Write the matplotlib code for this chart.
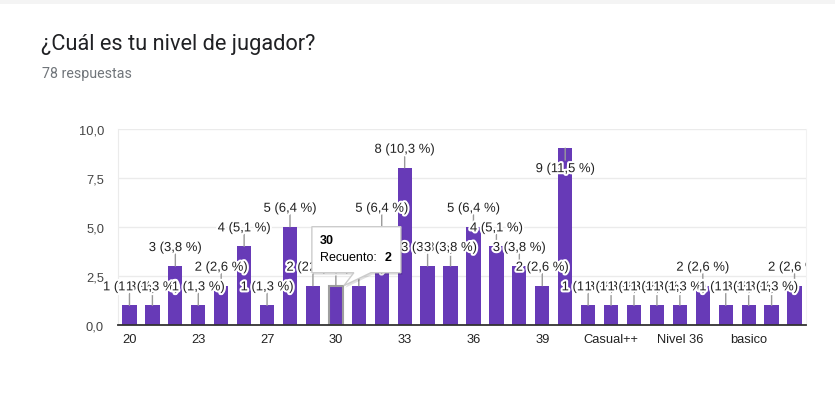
import matplotlib.pyplot as plt
import matplotlib.patheffects as pe
import matplotlib.transforms as mtransforms
from matplotlib.patches import Polygon, Rectangle

# Respuestas por categoria (78 en total)
categorias = ["20", "21", "22", "23", "24", "25", "27", "28", "29", "30",
              "31", "32", "33", "34", "35", "36", "37", "38", "39", "40",
              "Casual", "Casual++", "Experto", "Medio", "Nivel 36", "Nivel 40",
              "Pro", "basico", "medio", "pro"]
recuento = [1, 1, 3, 1, 2, 4, 1, 5, 2, 2,
            2, 5, 8, 3, 3, 5, 4, 3, 2, 9,
            1, 1, 1, 1, 1, 2, 1, 1, 1, 2]
total = sum(recuento)
yticks = [0, 2.5, 5, 7.5, 10]
hover_idx = 9  # barra "30" con el tooltip

morado = "#673ab7"
fuente = "Liberation Sans"

fig = plt.figure(figsize=(8.35, 4.14), dpi=100)
ax = fig.add_axes([118 / 835, 88 / 414, 688 / 835, 196.5 / 414])

x = list(range(len(categorias)))
bars = ax.bar(x, recuento, width=0.62, color=morado, zorder=2)
bars[hover_idx].set_edgecolor("#9e9e9e")
bars[hover_idx].set_linewidth(1.5)

ax.set_xlim(-0.5, len(categorias) - 0.5)
ax.set_ylim(0, 10)
ax.set_yticks(yticks)
ax.set_yticklabels([f"{v:.1f}".replace(".", ",") for v in yticks],
                   fontsize=9.3, color="#444444", family=fuente)
ax.set_xticks(x[::3])
ax.set_xticklabels(categorias[::3], fontsize=9.3, color="#222222", family=fuente)
ax.tick_params(length=0)
ax.tick_params(axis="y", pad=10)
ax.tick_params(axis="x", pad=6)

ax.grid(axis="y", color="#ebebeb", linewidth=1, zorder=0)
ax.spines["top"].set_visible(False)
ax.spines["left"].set_color("#ebebeb")
ax.spines["right"].set_color("#f2f2f2")
ax.spines["bottom"].set_color("#333333")
ax.spines["bottom"].set_linewidth(1.3)
ax.spines["bottom"].set_zorder(3)

# las etiquetas se cortan en el borde derecho del area del grafico
corte = mtransforms.TransformedBbox(
    mtransforms.Bbox([[0, 0], [806 / 835, 1]]), fig.transFigure)

# etiquetas con linea guia
halo = [pe.withStroke(linewidth=3, foreground="white")]
for i, v in enumerate(recuento):
    pct = f"{100 * v / total:.1f}".replace(".", ",")
    texto = f"{v} ({pct} %)"
    arriba = v < 9
    stem = 12 if arriba else -12
    off = 18 if arriba else -21
    ax.annotate("", xy=(i, v), xytext=(0, stem), textcoords="offset pixels",
                arrowprops=dict(arrowstyle="-", color="#999999", lw=1,
                                shrinkA=0, shrinkB=0), zorder=4)
    t = ax.annotate(texto, xy=(i, v), xytext=(0, off), textcoords="offset pixels",
                    ha="center", va="center", fontsize=9.4, color="#222222",
                    family=fuente, path_effects=halo, zorder=5)
    t.set_clip_box(corte)
    t.set_clip_on(True)

# tooltip sobre la barra "30"
tt = mtransforms.Affine2D() + mtransforms.ScaledTranslation(
    hover_idx, recuento[hover_idx], ax.transData)
forma = [(-24, 59), (65, 59), (65, 13), (35, 13), (8, 0), (18, 13), (-24, 13)]
sombra = Polygon([(px + 1.5, py - 2) for px, py in forma], closed=True,
                 transform=tt, facecolor="#000000", alpha=0.12,
                 edgecolor="none", zorder=9, clip_on=False)
caja = Polygon(forma, closed=True, transform=tt, facecolor="white",
               edgecolor="#cccccc", lw=1, zorder=10, clip_on=False)
ax.add_patch(sombra)
ax.add_patch(caja)
ax.text(-16, 46, categorias[hover_idx], transform=tt, fontsize=9, fontweight="bold",
        color="#000000", va="center", ha="left", family=fuente, zorder=11)
ax.text(-16, 29, "Recuento: ", transform=tt, fontsize=9, color="#000000",
        va="center", ha="left", family=fuente, zorder=11)
ax.text(49, 29, str(recuento[hover_idx]), transform=tt, fontsize=9, fontweight="bold",
        color="#000000", va="center", ha="left", family=fuente, zorder=11)

# cabecera
fig.add_artist(Rectangle((0, 1 - 5 / 414), 1, 5 / 414, transform=fig.transFigure,
                         facecolor="#f4f4f4", edgecolor="none"))
fig.text(41 / 835, 1 - 50 / 414, "¿Cuál es tu nivel de jugador?", fontsize=15.7,
         family="Roboto", color="#202124", va="baseline")
fig.text(42 / 835, 1 - 78 / 414, f"{total} respuestas", fontsize=10.3,
         family="Roboto", color="#70757a", va="baseline")

fig.savefig("out.png", dpi=100)
